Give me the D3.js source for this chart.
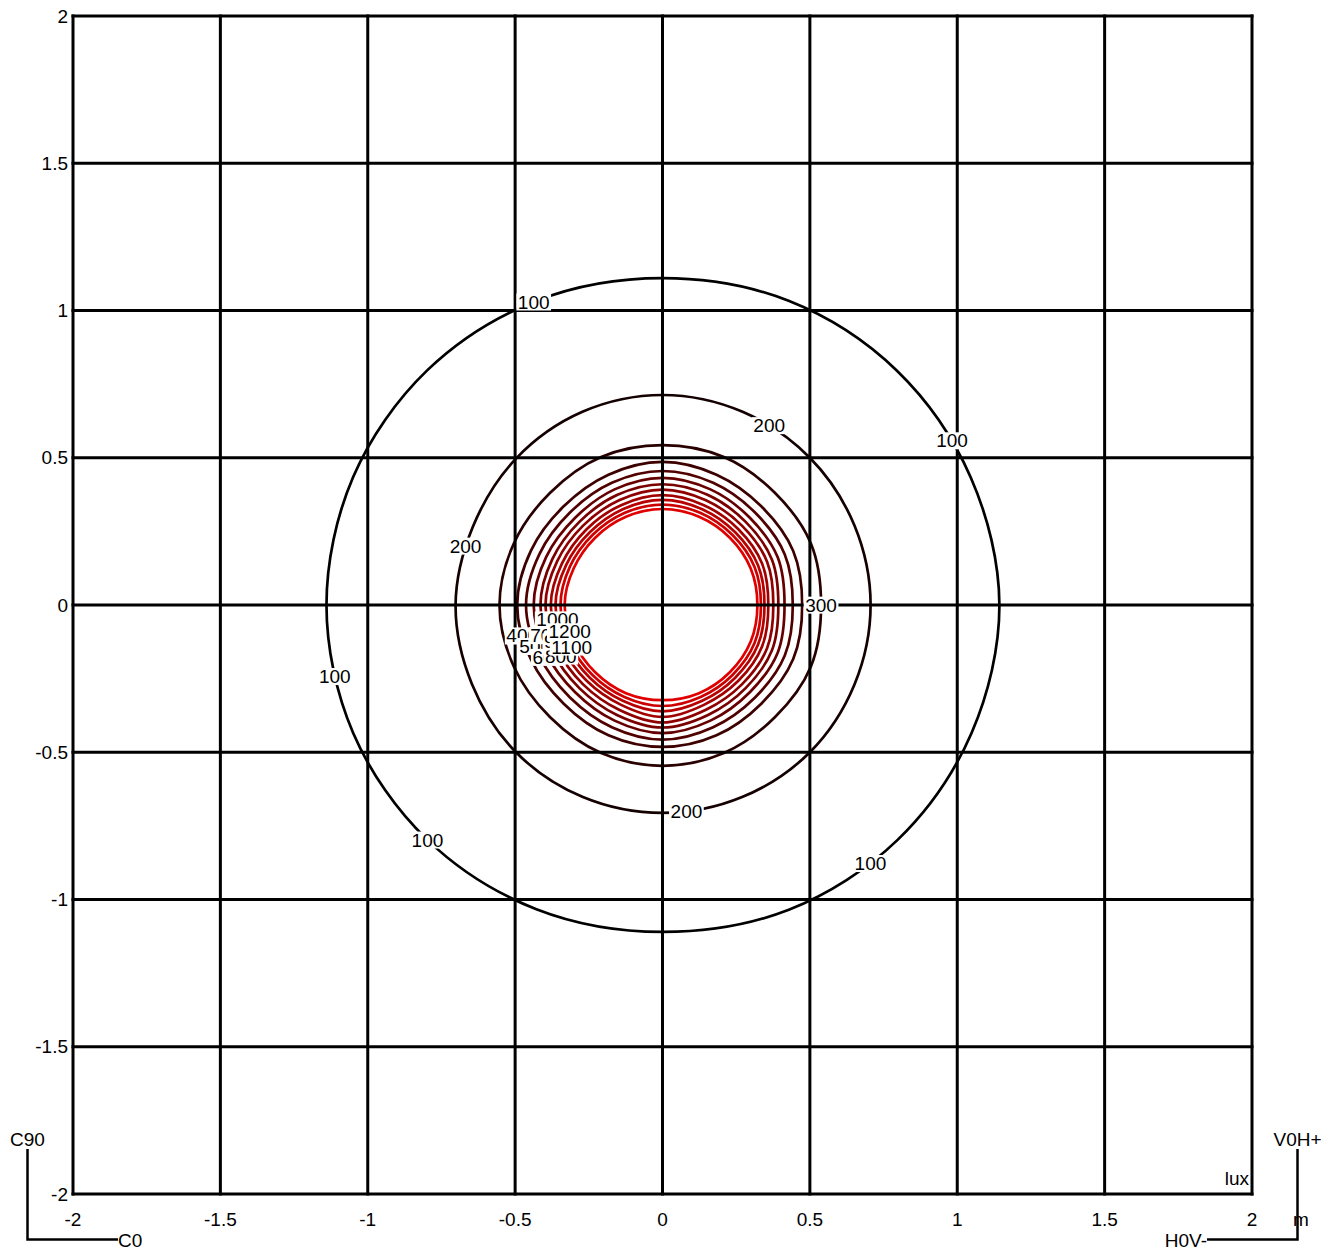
<!DOCTYPE html>
<html>
<head>
<meta charset="utf-8">
<script src="https://cdn.jsdelivr.net/npm/d3@7"></script>
<style>
  body { margin: 0; background: #fff; }
  text { font-family: "Liberation Sans", Arial, sans-serif; }
</style>
</head>
<body>
<div id="chart"></div>
<script>
// isolux levels (lux)
var levels = [100, 200, 300, 400, 500, 600, 700, 800, 900, 1000, 1100, 1200];

// directions (degrees, counter-clockwise from +x) where the contour radii were read
var directions = [0, 22.5, 45, 67.5, 90, 112.5, 135, 157.5, 180, 202.5, 225, 247.5, 270, 292.5, 315, 337.5];

// contour radius (m) in each direction, one array per level
var r100  = [1.143, 1.132, 1.125, 1.118, 1.110, 1.118, 1.128, 1.136, 1.140, 1.136, 1.128, 1.118, 1.110, 1.120, 1.128, 1.135];
var r200  = [0.706, 0.705, 0.707, 0.710, 0.713, 0.710, 0.703, 0.696, 0.702, 0.700, 0.705, 0.706, 0.706, 0.706, 0.707, 0.705];
var r300  = [0.538, 0.545, 0.539, 0.544, 0.543, 0.544, 0.539, 0.546, 0.553, 0.546, 0.539, 0.544, 0.546, 0.544, 0.539, 0.545];
var r400  = [0.474, 0.480, 0.474, 0.479, 0.486, 0.479, 0.474, 0.483, 0.493, 0.483, 0.474, 0.479, 0.482, 0.479, 0.474, 0.480];
var r500  = [0.442, 0.449, 0.444, 0.449, 0.455, 0.449, 0.444, 0.452, 0.463, 0.452, 0.444, 0.449, 0.457, 0.449, 0.444, 0.449];
var r600  = [0.414, 0.423, 0.419, 0.425, 0.432, 0.425, 0.419, 0.427, 0.437, 0.427, 0.419, 0.425, 0.435, 0.425, 0.419, 0.423];
var r700  = [0.393, 0.402, 0.399, 0.404, 0.410, 0.404, 0.399, 0.405, 0.414, 0.405, 0.399, 0.404, 0.416, 0.404, 0.399, 0.402];
var r800  = [0.376, 0.384, 0.381, 0.385, 0.392, 0.385, 0.381, 0.387, 0.397, 0.387, 0.381, 0.385, 0.399, 0.385, 0.381, 0.384];
var r900  = [0.359, 0.366, 0.364, 0.367, 0.373, 0.367, 0.364, 0.369, 0.379, 0.369, 0.364, 0.367, 0.380, 0.367, 0.364, 0.366];
var r1000 = [0.346, 0.351, 0.349, 0.352, 0.357, 0.352, 0.349, 0.354, 0.363, 0.354, 0.349, 0.352, 0.361, 0.352, 0.349, 0.351];
var r1100 = [0.334, 0.338, 0.336, 0.338, 0.341, 0.338, 0.336, 0.340, 0.346, 0.340, 0.336, 0.338, 0.343, 0.338, 0.336, 0.338];
var r1200 = [0.322, 0.324, 0.323, 0.324, 0.326, 0.324, 0.323, 0.326, 0.332, 0.326, 0.323, 0.324, 0.323, 0.324, 0.323, 0.324];
var radii = [r100, r200, r300, r400, r500, r600, r700, r800, r900, r1000, r1100, r1200];

// where each level is labelled: [level, direction in degrees]
var labelSpots = [
    [100, 113], [100, 29.6], [100, 192.3], [100, 225], [100, 308.8],
    [200, 59.3], [200, 163.3], [200, 276.6],
    [300, 0],
    [400, 192.4], [500, 198], [600, 204.6], [700, 194.7], [800, 206.6],
    [900, 199.7], [1000, 188], [1100, 204.8], [1200, 196]
];

// tick labels
var ticks = [-2, -1.5, -1, -0.5, 0, 0.5, 1, 1.5, 2];

var width = 1337, height = 1250;
var margin = {top: 16, left: 73, right: 85, bottom: 56};

var x = d3.scaleLinear().domain([-2, 2]).range([margin.left, width - margin.right]);
var y = d3.scaleLinear().domain([-2, 2]).range([height - margin.bottom, margin.top]);
var colour = d3.scaleLinear().domain([100, 1200]).range(["#000000", "#e00000"]);

var svg = d3.select("#chart").append("svg")
    .attr("width", width)
    .attr("height", height);

function point(r, deg) {
    var a = deg * Math.PI / 180;
    return [x(r * Math.cos(a)), y(r * Math.sin(a))];
}

// radius at any direction, linear between the read directions
function radiusAt(rs, deg) {
    var step = 360 / directions.length;
    var d = ((deg % 360) + 360) % 360;
    var i = Math.floor(d / step), t = (d - i * step) / step;
    return rs[i] * (1 - t) + rs[(i + 1) % rs.length] * t;
}

var contour = d3.line().curve(d3.curveCatmullRomClosed);

// contours
svg.append("g").selectAll("path")
    .data(levels)
    .enter().append("path")
    .attr("d", function (d, i) {
        return contour(directions.map(function (a, j) { return point(radii[i][j], a); }));
    })
    .attr("fill", "none")
    .attr("stroke", function (d) { return colour(d); })
    .attr("stroke-width", 2.7);

// grid
var grid = svg.append("g").attr("stroke", "#000").attr("stroke-width", 3);
grid.selectAll(".v").data(ticks).enter().append("line")
    .attr("x1", function (d) { return x(d); })
    .attr("x2", function (d) { return x(d); })
    .attr("y1", y(2) - 1.5)
    .attr("y2", y(-2) + 1.5);
grid.selectAll(".h").data(ticks).enter().append("line")
    .attr("y1", function (d) { return y(d); })
    .attr("y2", function (d) { return y(d); })
    .attr("x1", x(-2) - 1.5)
    .attr("x2", x(2) + 1.5);

// tick labels
svg.append("g").selectAll("text").data(ticks).enter().append("text")
    .attr("x", margin.left - 5)
    .attr("y", function (d) { return y(d); })
    .attr("dy", "0.35em")
    .attr("text-anchor", "end")
    .attr("font-size", 19)
    .text(function (d) { return d; });
svg.append("g").selectAll("text").data(ticks).enter().append("text")
    .attr("x", function (d) { return x(d); })
    .attr("y", y(-2) + 25)
    .attr("dy", "0.35em")
    .attr("text-anchor", "middle")
    .attr("font-size", 19)
    .text(function (d) { return d; });

// contour labels with white boxes
var labels = svg.append("g").selectAll("g").data(labelSpots).enter().append("g")
    .attr("transform", function (d) {
        var i = levels.indexOf(d[0]);
        var p = point(radiusAt(radii[i], d[1]), d[1]);
        return "translate(" + p[0] + "," + p[1] + ")";
    });
labels.append("rect")
    .attr("fill", "#fff");
labels.append("text")
    .attr("text-anchor", "middle")
    .attr("dy", "0.35em")
    .attr("font-size", 19)
    .text(function (d) { return d[0]; });
labels.each(function () {
    var g = d3.select(this);
    var b = g.select("text").node().getBBox();
    g.select("rect")
        .attr("x", b.x - 1.5)
        .attr("y", b.y + 2)
        .attr("width", b.width + 3)
        .attr("height", b.height - 4);
});

// unit labels
svg.append("text")
    .attr("x", x(2) - 3)
    .attr("y", y(-2) - 9)
    .attr("text-anchor", "end")
    .attr("font-size", 19)
    .text("lux");
svg.append("text")
    .attr("x", 1301)
    .attr("y", y(-2) + 25)
    .attr("dy", "0.35em")
    .attr("text-anchor", "middle")
    .attr("font-size", 19)
    .text("m");

// orientation marks
var marks = svg.append("g").attr("fill", "none").attr("stroke", "#000").attr("stroke-width", 2.5);
marks.append("path").attr("d", "M27.5,1149V1239.5H118");
marks.append("path").attr("d", "M1297.5,1149V1239.5H1207");

svg.append("text").attr("x", 27.5).attr("y", 1139).attr("dy", "0.35em")
    .attr("text-anchor", "middle").attr("font-size", 19).text("C90");
svg.append("text").attr("x", 118).attr("y", 1240).attr("dy", "0.35em")
    .attr("text-anchor", "start").attr("font-size", 19).text("C0");
svg.append("text").attr("x", 1297.5).attr("y", 1139).attr("dy", "0.35em")
    .attr("text-anchor", "middle").attr("font-size", 19).text("V0H+");
svg.append("text").attr("x", 1207).attr("y", 1240).attr("dy", "0.35em")
    .attr("text-anchor", "end").attr("font-size", 19).text("H0V-");
</script>
</body>
</html>
